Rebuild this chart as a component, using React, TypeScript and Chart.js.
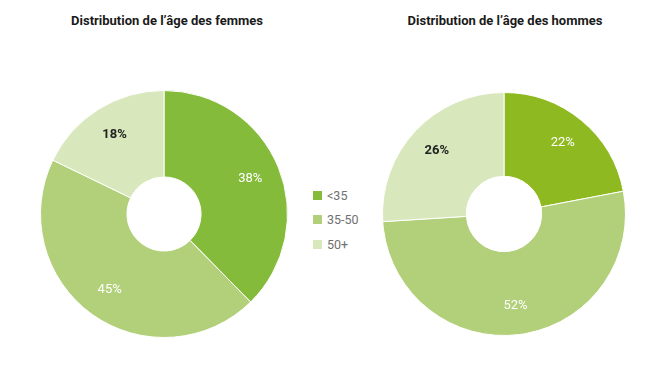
import React, { useEffect, useRef } from "react";
import { Chart, ArcElement, DoughnutController } from "chart.js";

Chart.register(ArcElement, DoughnutController);

const categories = ["<35", "35-50", "50+"];
const womenValues = [38, 45, 18];
const menValues = [22, 52, 26];
const womenColors = ["#85bb3b", "#b2d07a", "#d8e8bc"];
const menColors = ["#8fb920", "#b2d07a", "#d8e8bc"];
const labelColors = ["#ffffff", "#ffffff", "#222222"];
const labelWeights = ["normal", "normal", "bold"];
const womenTitle = "Distribution de l\u2019âge des femmes";
const menTitle = "Distribution de l\u2019âge des hommes";

const FONT = "Roboto, 'DejaVu Sans', sans-serif";

const pctLabels = {
  id: "pctLabels",
  afterDatasetsDraw(chart: any) {
    const ctx = chart.ctx;
    const ds = chart.data.datasets[0];
    const meta = chart.getDatasetMeta(0);
    meta.data.forEach((arc: any, i: number) => {
      const p = arc.getProps(["x", "y", "startAngle", "endAngle", "innerRadius", "outerRadius"], true);
      const mid = (p.startAngle + p.endAngle) / 2;
      const r = p.innerRadius + (p.outerRadius - p.innerRadius) * 0.65;
      ctx.save();
      ctx.fillStyle = labelColors[i];
      ctx.font = `${labelWeights[i]} 13px ${FONT}`;
      ctx.textAlign = "center";
      ctx.textBaseline = "middle";
      ctx.fillText(`${ds.data[i]}%`, p.x + Math.cos(mid) * r, p.y + Math.sin(mid) * r);
      ctx.restore();
    });
  },
};

function Donut({ values, colors, left, top, size, cutout }: any) {
  const ref = useRef<HTMLCanvasElement>(null);
  useEffect(() => {
    const chart = new Chart(ref.current as HTMLCanvasElement, {
      type: "doughnut",
      data: {
        labels: categories,
        datasets: [
          {
            data: values,
            backgroundColor: colors,
            borderColor: "#ffffff",
            borderWidth: 1,
          },
        ],
      },
      options: {
        responsive: false,
        animation: false,
        cutout,
        layout: { padding: 0 },
        plugins: { legend: { display: false }, tooltip: { enabled: false } },
      } as any,
      plugins: [pctLabels],
    });
    return () => chart.destroy();
  }, []);
  return (
    <canvas
      ref={ref}
      width={size}
      height={size}
      style={{ position: "absolute", left, top, width: size, height: size }}
    />
  );
}

export default function App() {
  const titleStyle: any = {
    position: "absolute",
    top: 13,
    width: 300,
    textAlign: "center",
    font: `bold 13px ${FONT}`,
    color: "#1a1a1a",
    lineHeight: "16px",
  };
  return (
    <div style={{ position: "absolute", left: 0, top: 0, width: 669, height: 373, background: "#fff" }}>
      <div style={{ ...titleStyle, left: 167 - 150 }}>{womenTitle}</div>
      <div style={{ ...titleStyle, left: 505 - 150 }}>{menTitle}</div>
      <Donut values={womenValues} colors={womenColors} left={40} top={90} size={248} cutout="30%" />
      <Donut values={menValues} colors={menColors} left={382} top={92} size={244} cutout="31%" />
      {categories.map((c, i) => (
        <div
          key={c}
          style={{ position: "absolute", left: 313, top: 188 + i * 24.5, height: 14, display: "flex", alignItems: "center" }}
        >
          <div style={{ width: 9, height: 9, background: womenColors[i], marginRight: 5 }} />
          <span style={{ font: `12.5px ${FONT}`, color: "#707070" }}>{c}</span>
        </div>
      ))}
    </div>
  );
}
